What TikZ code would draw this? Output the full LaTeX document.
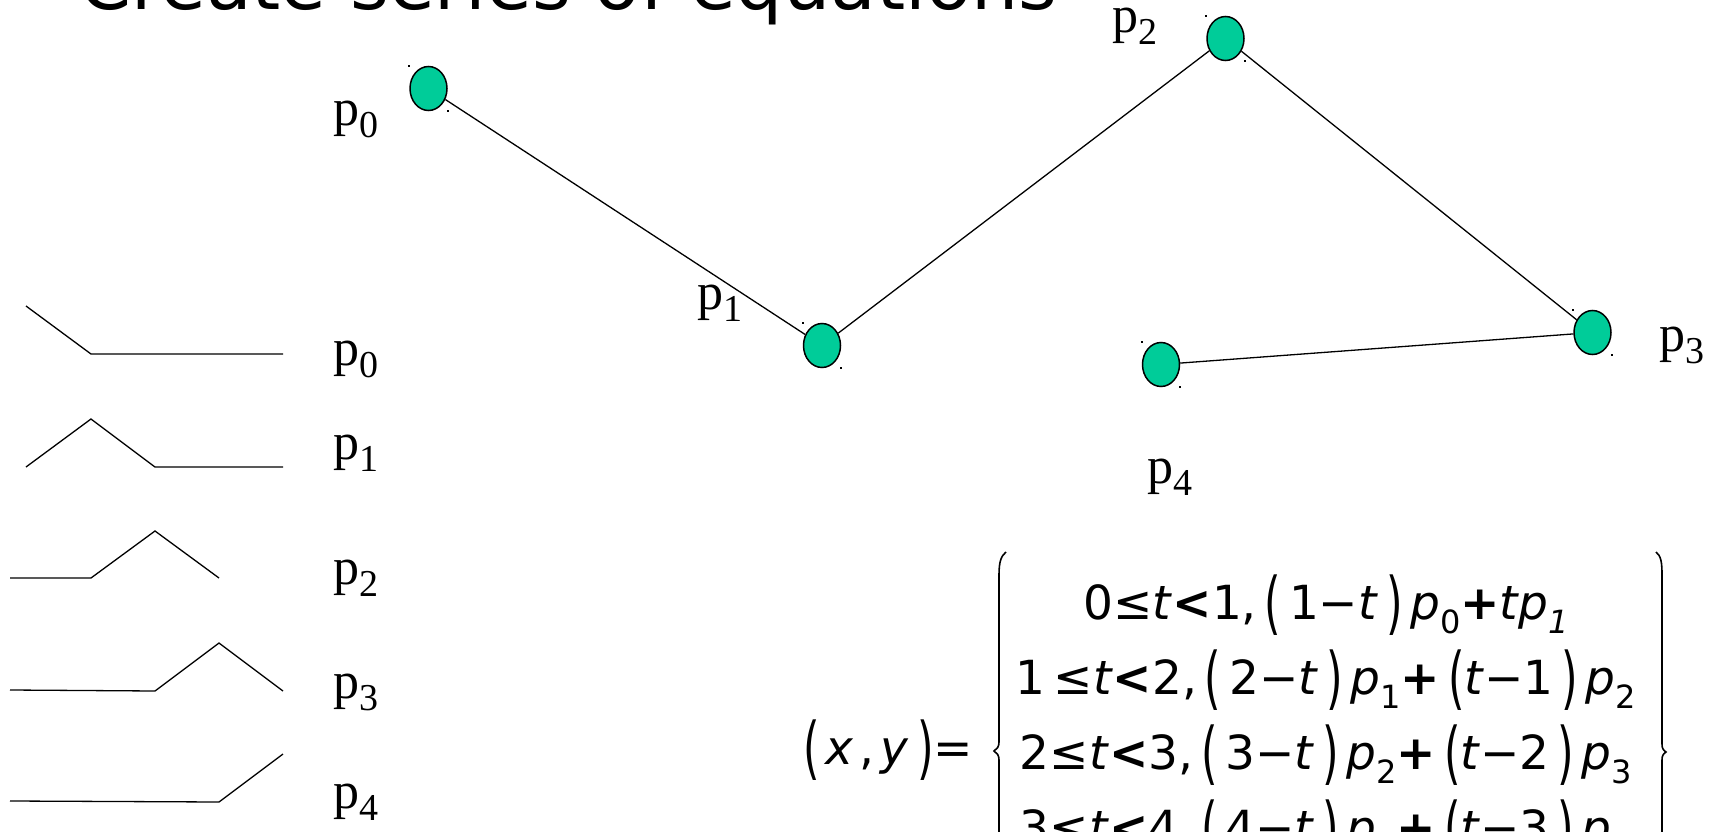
\documentclass[tikz,border=0pt]{standalone}
\usepackage{fontspec}
\usepackage{graphicx}
\setmainfont{Liberation Serif}
\newfontfamily\titlefont{DejaVu Sans}
\newfontfamily\eqfont{DejaVu Sans}
\usetikzlibrary{shapes.geometric,calc}
\definecolor{ptfill}{RGB}{0,204,153}
\newcommand{\plab}[1]{p\raisebox{-12pt}{\fontsize{38}{38}\selectfont #1}}
\newcommand{\esub}[1]{\raisebox{-14pt}{\fontsize{32}{32}\selectfont #1}}
\newcommand{\lpar}{\raisebox{-7pt}{\scalebox{0.9}[1.45]{(}}}
\newcommand{\rpar}{\raisebox{-7pt}{\scalebox{0.9}[1.45]{)}}}
\newcommand{\bl}{\textbf{<}}
\newcommand{\bp}{\textbf{+}}
\tikzset{
  ptnode/.style={ellipse, draw, fill=ptfill, line width=1.5pt, minimum width=37pt, minimum height=44pt, inner sep=0pt},
  seg/.style={line width=1.3pt},
  plabel/.style={anchor=base west, inner sep=0pt, font=\fontsize{52}{52}\selectfont},
  eqrow/.style={anchor=base, inner sep=0pt, font=\eqfont\fontsize{47}{47}\selectfont},
  brace/.style={line width=1.6pt},
  handle/.style={fill=black}
}
\begin{document}
\begin{tikzpicture}[x=1pt,y=-1pt]
\path[use as bounding box] (0,0) rectangle (1714,832);
\clip (0,0) rectangle (1714,832);
\fill[white] (0,0) rectangle (1714,832);

% title
\node[anchor=base west, inner sep=0pt, font=\titlefont\fontsize{74.5}{74.5}\selectfont] (title) at (79,10) {Create series of equations};

% control points
\node[ptnode] (q0) at (428.5,88.5) {};
\node[ptnode] (q1) at (822,345.5) {};
\node[ptnode] (q2) at (1225.5,38.5) {};
\node[ptnode] (q3) at (1592.5,332.5) {};
\node[ptnode] (q4) at (1161,364.5) {};
\foreach \n in {q0,q1,q2,q3,q4}{
  \fill[handle] ($(\n.west |- \n.north)+(-1,-1)$) rectangle ++(2,2);
  \fill[handle] ($(\n.east |- \n.south)+(-1,-1)$) rectangle ++(2,2);
}
\draw[seg] (q0) -- (q1);
\draw[seg] (q1) -- (q2);
\draw[seg] (q2) -- (q3);
\draw[seg] (q3) -- (q4);

\node[plabel] (l0) at (333,126) {\plab{0}};
\node[plabel] (l1) at (697,309) {\plab{1}};
\node[plabel] (l2) at (1112,33) {\plab{2}};
\node[plabel] (l3) at (1659,351) {\plab{3}};
\node[plabel] (l4) at (1147,483) {\plab{4}};

% basis functions
\draw[seg] (26,306) -- (91,354) -- (283,354);
\draw[seg] (26,467) -- (91,419) -- (155,467) -- (283,467);
\draw[seg] (10,578) -- (91,578) -- (155,531) -- (219,578);
\draw[seg] (10,690) -- (155,691) -- (219,643) -- (283,691);
\draw[seg] (10,801) -- (219,802) -- (283,754);
\node[plabel] (b0) at (333,365) {\plab{0}};
\node[plabel] (b1) at (333,459) {\plab{1}};
\node[plabel] (b2) at (333,584) {\plab{2}};
\node[plabel] (b3) at (333,698) {\plab{3}};
\node[plabel] (b4) at (333,808) {\plab{4}};

% equation
\node[anchor=base west, inner sep=0pt, font=\eqfont\fontsize{47}{47}\selectfont] (lhs) at (803,764)
  {\lpar\hspace{6pt}\textit{x}\hspace{6pt},\hspace{6pt}\textit{y}\hspace{8pt}\rpar=};
\draw[brace] (1006,552) .. controls (1001,556) and (999,562) .. (999,575) -- (999,742) .. controls (999,747) and (997,749) .. (994,751) .. controls (997,753) and (999,755) .. (999,760) -- (999,840);
\draw[brace] (1656,552) .. controls (1661,556) and (1662,562) .. (1662,575) -- (1662,744) .. controls (1662,748) and (1663,750) .. (1666,752) .. controls (1663,754) and (1662,756) .. (1662,760) -- (1662,840);
\node[eqrow] (r1) at (1326,619) {0≤\textit{t}\bl1,\,\lpar\,1−\textit{t}\,\rpar\,\textit{p}\esub{0}\bp\textit{tp}\esub{\textit{1}}};
\node[eqrow] (r2) at (1326,694) {1\,≤\textit{t}\bl2,\,\lpar\,2−\textit{t}\,\rpar\,\textit{p}\esub{1}\bp\,\lpar\textit{t}−1\,\rpar\,\textit{p}\esub{2}};
\node[eqrow] (r3) at (1326,769) {2≤\textit{t}\bl3,\,\lpar\,3−\textit{t}\,\rpar\,\textit{p}\esub{2}\bp\,\lpar\textit{t}−2\,\rpar\,\textit{p}\esub{3}};
\node[eqrow] (r4) at (1326,844) {3≤\textit{t}\bl4,\,\lpar\,4−\textit{t}\,\rpar\,\textit{p}\esub{3}\bp\,\lpar\textit{t}−3\,\rpar\,\textit{p}\esub{4}};
\end{tikzpicture}
\end{document}
